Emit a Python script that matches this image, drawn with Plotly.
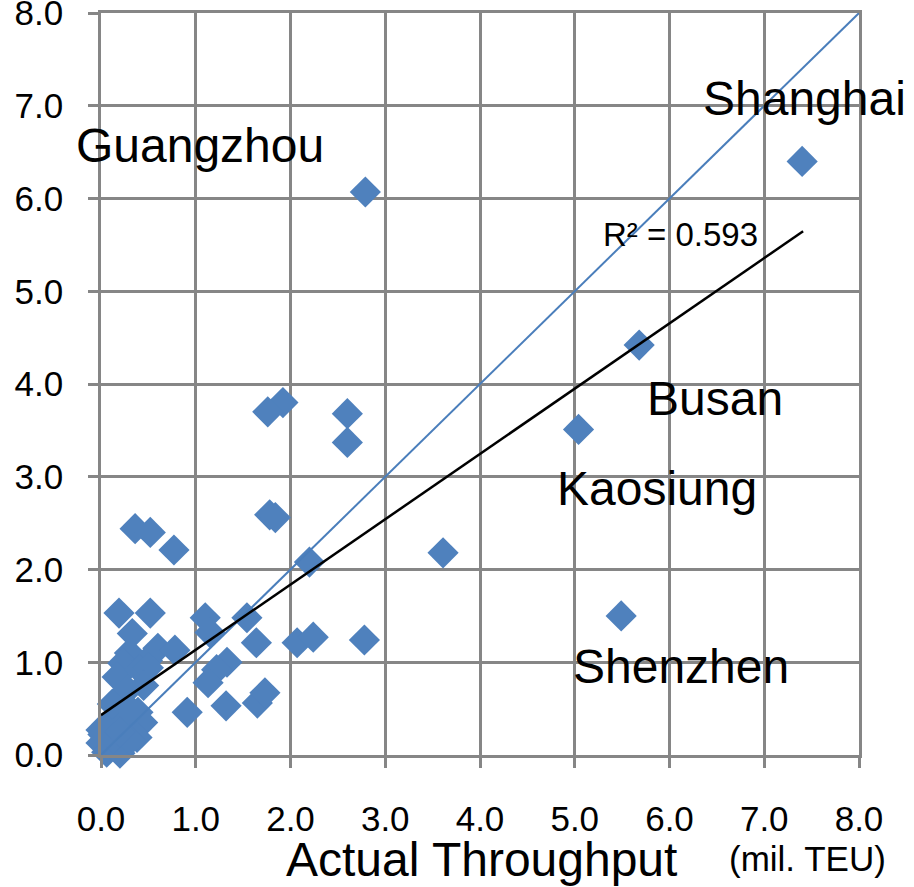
import plotly.graph_objects as go

# Port throughput: actual (x) vs estimated (y), mil. TEU
actual = [7.40, 5.68, 5.04, 5.49, 2.79, 3.61, 2.78, 2.60, 2.60, 1.92,
          1.76, 1.78, 1.84, 2.20, 2.07, 2.24, 1.64, 1.54, 1.10, 1.15,
          1.33, 1.22, 1.13, 0.91, 1.32, 1.65, 1.73, 0.36, 0.52, 0.77,
          0.19, 0.52, 0.33, 0.30, 0.60, 0.78, 0.23, 0.49, 0.17, 0.41,
          0.50, 0.39, 0.44, 0.38, 0.00, 0.00, 0.06, 0.20, 0.13, 0.23,
          0.10, 0.31, 0.02, 0.28, 0.45, 0.12, 0.30, 0.20]
estimated = [6.40, 4.42, 3.51, 1.50, 6.07, 2.18, 1.24, 3.68, 3.37, 3.80,
             3.70, 2.59, 2.56, 2.08, 1.21, 1.27, 1.21, 1.48, 1.48, 1.32,
             1.00, 0.92, 0.78, 0.46, 0.53, 0.56, 0.67, 2.44, 2.40, 2.21,
             1.53, 1.53, 1.31, 1.10, 1.15, 1.13, 0.99, 1.02, 0.84, 0.92,
             0.94, 0.46, 0.35, 0.19, 0.27, 0.13, 0.03, 0.02, 0.18, 0.35,
             0.35, 0.16, 0.22, 0.70, 0.75, 0.55, 0.50, 0.25]

identity_x = [0, 8]
identity_y = [0, 8]

trend_slope = 0.704
trend_intercept = 0.43
trend_x = [0.0, 7.41]
trend_y = [trend_slope * v + trend_intercept for v in trend_x]

tick_vals = [0, 1, 2, 3, 4, 5, 6, 7, 8]
tick_text = ["0.0", "1.0", "2.0", "3.0", "4.0", "5.0", "6.0", "7.0", "8.0"]

port_names = ["Guangzhou", "Shanghai", "Busan", "Kaosiung", "Shenzhen"]
label_x = [1.045, 7.43, 6.48, 5.87, 6.12]
label_y = [6.57, 7.08, 3.84, 2.87, 0.95]

r2_text = "R² = 0.593"

FONT = "Liberation Sans, Arial, sans-serif"
GRID = "#868686"
BLUE = "#4F81BD"

fig = go.Figure()
fig.add_trace(go.Scatter(
    x=actual, y=estimated, mode="markers",
    marker=dict(symbol="diamond", size=24, color=BLUE, line=dict(width=0)),
    cliponaxis=False, showlegend=False, hoverinfo="x+y"))
fig.add_trace(go.Scatter(
    x=identity_x, y=identity_y, mode="lines",
    line=dict(color="#4A7EBB", width=2), showlegend=False, cliponaxis=False))
fig.add_trace(go.Scatter(
    x=trend_x, y=trend_y, mode="lines",
    line=dict(color="black", width=2.5), showlegend=False))

for name, lx, ly in zip(port_names, label_x, label_y):
    fig.add_annotation(x=lx, y=ly, text=name, showarrow=False,
                       xanchor="center", yanchor="middle",
                       font=dict(family=FONT, size=48, color="black"))

fig.add_annotation(x=6.12, y=5.61, text=r2_text, showarrow=False,
                   xanchor="center", yanchor="middle",
                   font=dict(family=FONT, size=33, color="black"))

# x-axis title and units
fig.add_annotation(xref="paper", yref="paper", x=(481 - 101) / 758, y=-0.102,
                   text="Actual Throughput", showarrow=False,
                   xanchor="center", yanchor="top",
                   font=dict(family=FONT, size=48, color="black"))
fig.add_annotation(xref="paper", yref="paper", x=(807 - 101) / 758, y=-0.110,
                   text="(mil. TEU)", showarrow=False,
                   xanchor="center", yanchor="top",
                   font=dict(family=FONT, size=35, color="black"))
# y-axis units (mostly cut off at the top edge)
fig.add_annotation(xref="paper", yref="paper", x=(216 - 101) / 758, y=1.0142,
                   text="(mil. TEU)", showarrow=False,
                   xanchor="center", yanchor="bottom",
                   font=dict(family=FONT, size=35, color="black"))

axis_common = dict(
    range=[0, 8], tickmode="array", tickvals=tick_vals, ticktext=tick_text,
    showgrid=True, gridcolor=GRID, gridwidth=2.5,
    showline=True, linecolor=GRID, linewidth=2.5, mirror=True,
    ticks="outside", ticklen=10, tickwidth=2.5, tickcolor=GRID,
    zeroline=False, fixedrange=True, automargin=False,
    ticklabeloverflow="allow",
)

fig.update_xaxes(**axis_common, ticklabelstandoff=21,
                 tickfont=dict(family=FONT, size=35, color="black"))
fig.update_yaxes(**axis_common, ticklabelstandoff=18,
                 tickfont=dict(family=FONT, size=35, color="black"))

fig.update_layout(
    width=914, height=887,
    margin=dict(l=101, r=55, t=13, b=132),
    paper_bgcolor="white", plot_bgcolor="white",
    showlegend=False,
)

fig.write_html("out.html",
               config={"displayModeBar": False},
               post_script="document.body.style.margin='0';"
                           "document.body.style.overflow='hidden';")
